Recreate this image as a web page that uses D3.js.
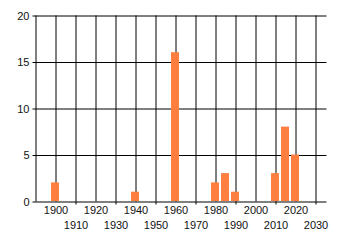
<!DOCTYPE html>
<html>
<head>
<meta charset="utf-8">
<script src="https://cdn.jsdelivr.net/npm/d3@7"></script>
<style>
  html, body { margin: 0; padding: 0; background: #fff; }
  svg text { font-family: "Liberation Sans", Arial, sans-serif; font-size: 11px; fill: #111; }
</style>
</head>
<body>
<svg id="dessin" width="340" height="245"></svg>
<script>
// data
let annees = [1900, 1940, 1960, 1980, 1985, 1990, 2010, 2015, 2020];
let valeurs = [2, 1, 16, 2, 3, 1, 3, 8, 5];
let ticksY = [0, 5, 10, 15, 20];
let decennies = [1890, 1900, 1910, 1920, 1930, 1940, 1950, 1960, 1970, 1980, 1990, 2000, 2010, 2020, 2030];
let labelsHaut = [1900, 1920, 1940, 1960, 1980, 2000, 2020];
let labelsBas = [1910, 1930, 1950, 1970, 1990, 2010, 2030];

let gauche = 35.5, droite = 326.5, haut = 15.5, bas = 201.5;

let x = d3.scaleLinear().domain([1890, 2035.5]).range([gauche, droite]);
let y = d3.scaleLinear().domain([0, 20]).range([bas, haut]);

let svg = d3.select("#dessin");

// horizontal grid + y labels
svg.append("g")
    .attr("transform", `translate(${gauche - 3},0)`)
    .call(d3.axisLeft(y).tickValues(ticksY).tickSize(-(droite - gauche + 3)).tickPadding(3))
    .call(g => g.select(".domain").remove())
    .call(g => g.selectAll("line").attr("stroke", "#000"))
    .call(g => g.selectAll("text").style("font-size", "11px"));

// vertical grid
svg.append("g")
    .attr("transform", `translate(0,${bas})`)
    .call(d3.axisBottom(x).tickValues(decennies).tickSize(-(bas - haut)).tickFormat(""))
    .call(g => g.select(".domain").remove())
    .call(g => g.selectAll("line").attr("stroke", "#000"));

// labels, first row
svg.append("g")
    .attr("transform", `translate(0,${bas})`)
    .call(d3.axisBottom(x).tickValues(labelsHaut).tickSize(0).tickPadding(5).tickFormat(d3.format("d")))
    .call(g => g.select(".domain").remove())
    .call(g => g.selectAll("text").style("font-size", "11px"));

// labels, second row (with small ticks)
svg.append("g")
    .attr("transform", `translate(0,${bas})`)
    .call(d3.axisBottom(x).tickValues(labelsBas).tickSize(3).tickPadding(17).tickFormat(d3.format("d")))
    .call(g => g.select(".domain").remove())
    .call(g => g.selectAll("line").attr("stroke", "#000"))
    .call(g => g.selectAll("text").style("font-size", "11px"));

// bars
let largeur = x(1894) - x(1890);
svg.append("g")
    .selectAll("rect")
    .data(annees)
    .enter()
    .append("rect")
    .attr("x", d => Math.floor(x(d) - largeur / 2))
    .attr("y", (d, i) => y(valeurs[i]) - 0.5)
    .attr("width", largeur)
    .attr("height", (d, i) => y(0) - y(valeurs[i]))
    .style("fill", "#ff7f40");
</script>
</body>
</html>
